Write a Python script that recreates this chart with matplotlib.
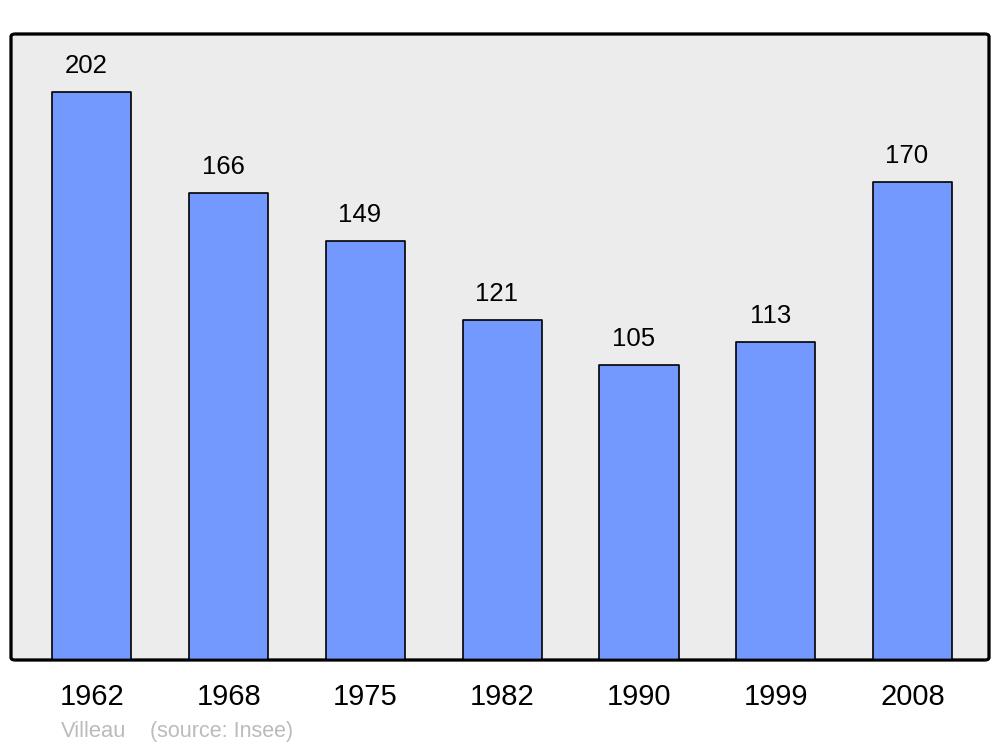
import matplotlib
matplotlib.use("Agg")
import matplotlib.pyplot as plt
from matplotlib.patches import FancyBboxPatch

years = ["1962", "1968", "1975", "1982", "1990", "1999", "2008"]
population = [202, 166, 149, 121, 105, 113, 170]
source_name = "Villeau"
source_note = "(source: Insee)"

plt.rcParams['font.family'] = ['Liberation Sans', 'DejaVu Sans']

fig = plt.figure(figsize=(10, 7.47), dpi=100)
ax = fig.add_axes([0.011, 1 - 660 / 747, 0.978, 626 / 747])
ax.set_facecolor('none')

x = list(range(len(years)))
bars = ax.bar(x, population, width=0.578, color='#7399FF', edgecolor='black',
              linewidth=1.2, zorder=3)
for b in bars:
    b.set_joinstyle('round')

for xi, v in zip(x, population):
    ax.annotate(str(v), xy=(xi, v), xytext=(-4, 13.5), textcoords='offset points',
                ha='center', va='baseline', fontsize=18.5, color='black')

ax.set_xlim(-0.592, 6.559)
ax.set_ylim(0, 222.6)
ax.set_yticks([])
ax.set_xticks(x)
ax.set_xticklabels(years, fontsize=21)
ax.tick_params(axis='x', length=0, pad=16.5)
for s in ax.spines.values():
    s.set_visible(False)

frame = FancyBboxPatch((0, 0), 1, 1, boxstyle='round,pad=0,rounding_size=0.004',
                       transform=ax.transAxes, facecolor='#ECECEC',
                       edgecolor='black', linewidth=2, zorder=0, clip_on=False)
ax.add_patch(frame)
frame2 = FancyBboxPatch((0, 0), 1, 1, boxstyle='round,pad=0,rounding_size=0.004',
                        transform=ax.transAxes, facecolor='none',
                        edgecolor='black', linewidth=2, zorder=5, clip_on=False)
ax.add_patch(frame2)

fig.text(61 / 1000, 1 - 737 / 747, source_name, fontsize=15.8, color='#BBBBBB', va='baseline')
fig.text(150 / 1000, 1 - 737 / 747, source_note, fontsize=15.5, color='#BBBBBB', va='baseline')

fig.savefig('out.png', dpi=100, facecolor='white')
